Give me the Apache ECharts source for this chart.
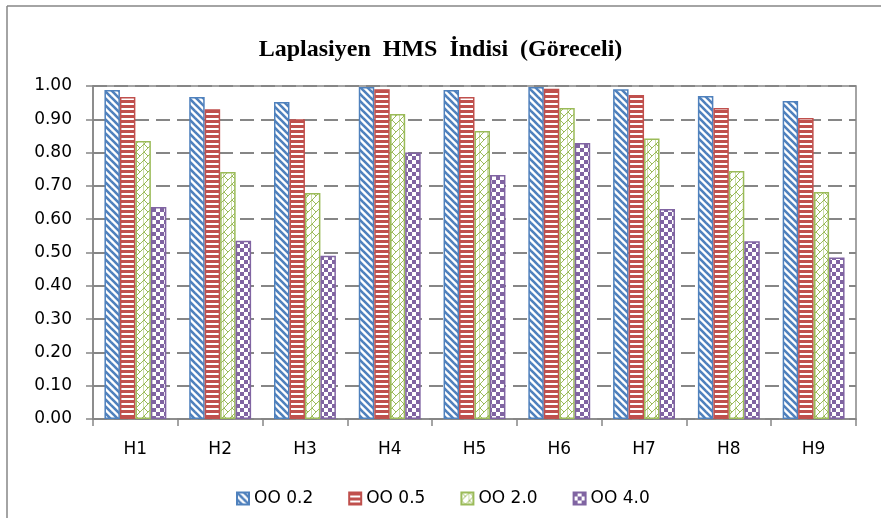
<!DOCTYPE html>
<html>
<head>
<meta charset="utf-8">
<script src="https://cdn.jsdelivr.net/npm/echarts@6/dist/echarts.min.js"></script>
<style>
html,body{margin:0;padding:0;background:#fff;}
#main{width:881px;height:518px;}
</style>
</head>
<body>
<div id="main"></div>
<script>
const categories = ['H1','H2','H3','H4','H5','H6','H7','H8','H9'];
const seriesNames = ['OO 0.2','OO 0.5','OO 2.0','OO 4.0'];
const oo02 = [0.988,0.967,0.952,0.997,0.988,0.997,0.990,0.970,0.955];
const oo05 = [0.967,0.930,0.900,0.990,0.967,0.992,0.973,0.934,0.904];
const oo20 = [0.835,0.742,0.679,0.916,0.865,0.934,0.842,0.745,0.682];
const oo40 = [0.637,0.535,0.490,0.800,0.733,0.829,0.631,0.534,0.485];
const yTicks = [0,0.1,0.2,0.3,0.4,0.5,0.6,0.7,0.8,0.9,1.0];

const COLORS = ['#4F81BD','#C0504D','#9BBB59','#8064A2'];

function tile(w,h,draw){
  const c=document.createElement('canvas');
  c.width=w;c.height=h;
  const g=c.getContext('2d');
  g.fillStyle='#fff';g.fillRect(0,0,w,h);
  draw(g);
  return {image:c,repeat:'repeat'};
}
const patterns = [
  tile(7,7,g=>{g.strokeStyle=COLORS[0];g.lineWidth=2.6;
    for(let k=-1;k<=1;k++){g.beginPath();g.moveTo(k*7-1,-1);g.lineTo(k*7+8,8);g.stroke();}}),
  tile(4,5,g=>{g.fillStyle=COLORS[1];g.fillRect(0,0,4,3);}),
  tile(8,8,g=>{g.strokeStyle=COLORS[2];g.lineWidth=1;
    g.beginPath();g.moveTo(-1,9);g.lineTo(9,-1);g.stroke();
    g.beginPath();g.moveTo(0,0);g.lineTo(4,4);g.stroke();
    g.beginPath();g.moveTo(8,0);g.lineTo(8,8);g.stroke();}),
  tile(8,8,g=>{g.fillStyle=COLORS[3];g.fillRect(0,0,4,4);g.fillRect(4,4,4,4);})
];
const dataSets = [oo02,oo05,oo20,oo40];

const chart = echarts.init(document.getElementById('main'));
const gray = '#868686';
const font = 'DejaVu Sans';
chart.setOption({
  animation:false,
  title:{
    text:'Laplasiyen  HMS  İndisi  (Göreceli)',
    left:'center', top:33,
    textStyle:{fontFamily:'Liberation Serif',fontWeight:'bold',fontSize:24,color:'#000'}
  },
  grid:{left:93,right:25,top:86,bottom:99,show:true,borderColor:gray,borderWidth:1.5,containLabel:false},
  legend:{
    left:231, top:485,
    itemWidth:12,itemHeight:12,itemGap:35,
    icon:'rect',
    textStyle:{fontFamily:font,fontSize:17,color:'#000'},
    data:seriesNames
  },
  xAxis:{
    type:'category',data:categories,
    axisLine:{lineStyle:{color:gray,width:1.5}},
    axisTick:{show:true,length:7,lineStyle:{color:gray,width:1.5}},
    axisLabel:{fontFamily:font,fontSize:17,color:'#000',margin:22}
  },
  yAxis:{
    type:'value',min:0,max:1,interval:0.1,
    axisLine:{show:true,lineStyle:{color:gray,width:1.5}},
    axisTick:{show:true,length:7,lineStyle:{color:gray,width:1.5}},
    axisLabel:{fontFamily:font,fontSize:17,color:'#000',margin:21,
      formatter:v=>v.toFixed(2)},
    splitLine:{show:true,lineStyle:{color:gray,width:2,type:[14,7]}}
  },
  graphic:[
    {type:'line',shape:{x1:7,y1:6,x2:881,y2:6},style:{stroke:gray,lineWidth:1.5}},
    {type:'line',shape:{x1:7,y1:6,x2:7,y2:518},style:{stroke:gray,lineWidth:1.5}}
  ],
  series:dataSets.map((d,i)=>({
    name:seriesNames[i],type:'bar',data:d,
    barGap:'0%',barCategoryGap:'27%',
    itemStyle:{color:patterns[i],borderColor:COLORS[i],borderWidth:1.5}
  }))
});
</script>
</body>
</html>
